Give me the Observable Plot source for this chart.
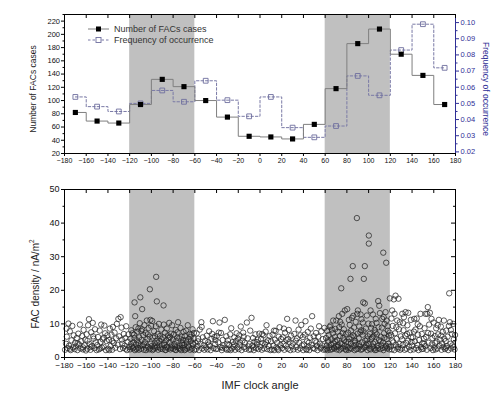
<!DOCTYPE html>
<html><head><meta charset="utf-8">
<script src="https://cdn.jsdelivr.net/npm/d3@7"></script>
<script src="https://cdn.jsdelivr.net/npm/@observablehq/plot@0.6"></script>
<style>
body{margin:0;background:#fff;font-family:"Liberation Sans",Arial,sans-serif}
#wrap{position:relative;width:500px;height:393px;overflow:hidden;background:#fff}
#top,#bot{position:absolute;left:0}
#top{top:0}#bot{top:175px}
.lab{position:absolute;white-space:nowrap;color:#222;line-height:1}
.rot{transform:translate(-50%,-50%) rotate(-90deg)}
.rot90{transform:translate(-50%,-50%) rotate(90deg)}
.ctr{transform:translate(-50%,-50%)}
.leg{position:absolute;left:88px;font-size:9px;color:#333;display:flex;align-items:center;white-space:nowrap}
.leg svg{margin-right:4px}
</style></head><body>
<div id="wrap">
  <div id="top"></div>
  <div id="bot"></div>
  <div class="lab rot" style="left:33px;top:89px;font-size:8.5px">Number of FACs cases</div>
  <div class="lab rot90" style="left:486px;top:89px;font-size:8.5px;color:#2f2f96">Frequency of occurrence</div>
  <div class="lab rot" style="left:35px;top:284px;font-size:10px">FAC density / nA/m<sup style="font-size:6.5px">2</sup></div>
  <div class="lab ctr" style="left:260px;top:385px;font-size:11px">IMF clock angle</div>
  <div class="leg" style="top:24px"><svg width="22" height="10"><line x1="0" y1="5" x2="21" y2="5" stroke="#7f7f7f" stroke-width="1"/><rect x="8" y="2.5" width="5" height="5" fill="#000"/></svg>Number of FACs cases</div>
  <div class="leg" style="top:35px"><svg width="22" height="10"><line x1="0" y1="5" x2="21" y2="5" stroke="#7a7aa6" stroke-width="1" stroke-dasharray="2.5,2"/><rect x="8" y="2.5" width="5" height="5" fill="#fff" stroke="#6e6e9e" stroke-width="0.9"/></svg>Frequency of occurrence</div>
</div>
<script>
// ---- data ----
const binCenters = [-170,-150,-130,-110,-90,-70,-50,-30,-10,10,30,50,70,90,110,130,150,170];
const facCases   = [82,69,66,94,132,121,100,75,46,45,42,64,118,186,208,170,138,94];
const freqOccurrence = [0.054,0.048,0.045,0.050,0.058,0.051,0.064,0.052,0.042,0.054,0.035,0.029,0.036,0.067,0.055,0.083,0.099,0.072];
const shadedBands = [[-120,-60],[60,120]];
const xTicks = [-180,-160,-140,-120,-100,-80,-60,-40,-20,0,20,40,60,80,100,120,140,160,180];
const casesTicks = [20,40,60,80,100,120,140,160,180,200,220];
const casesMinor = [30,50,70,90,110,130,150,170,190,210,230];
const freqTicks = [0.02,0.03,0.04,0.05,0.06,0.07,0.08,0.09,0.10];
const freqMinor = [0.025,0.035,0.045,0.055,0.065,0.075,0.085,0.095];
const densityTicks = [0,10,20,30,40,50];
const densityMinor = [5,15,25,35,45];
const casesDomain = [20,230];
const freqDomain = [0.019,0.105];

const scatterWest = [
[-179.5,2.3],[-178.6,4.1],[-177.9,6.2],[-177.2,2.8],[-176.4,10.1],[-175.8,3.5],[-175.1,7.8],[-174.3,2.2],[-173.6,5.1],[-172.8,9.4],[-172.1,3.0],[-171.5,6.6],[-170.7,2.5],[-170.2,4.4],[-178.2,8.6],[-174.9,2.6],
[-169.4,3.3],[-168.7,5.8],[-168.1,2.2],[-167.3,7.1],[-166.6,3.9],[-165.8,9.8],[-165.2,2.7],[-164.5,4.8],[-163.7,6.4],[-163.0,2.4],[-162.4,8.2],[-161.6,3.6],[-160.9,5.3],[-160.3,2.1],[-167.9,4.2],[-162.9,3.0],
[-159.6,6.9],[-159.0,2.6],[-158.3,9.6],[-157.5,11.4],[-156.8,4.0],[-156.1,2.3],[-155.4,7.5],[-154.7,3.4],[-154.0,10.3],[-153.2,5.6],[-152.5,2.8],[-151.9,8.4],[-151.2,4.5],[-150.5,2.2],[-158.8,5.0],[-155.9,3.1],[-153.6,6.3],
[-149.8,3.7],[-149.1,6.1],[-148.4,2.4],[-147.6,8.0],[-146.9,4.6],[-146.2,9.8],[-145.5,2.9],[-144.8,5.4],[-144.0,3.2],[-143.3,9.5],[-142.6,7.2],[-141.9,2.2],[-141.2,4.9],[-140.5,6.6],[-147.2,2.7],[-143.8,5.9],
[-139.7,2.6],[-139.0,5.2],[-138.3,8.6],[-137.5,3.4],[-136.8,6.8],[-136.1,2.3],[-135.4,9.1],[-134.6,4.3],[-133.9,7.4],[-133.2,2.9],[-132.5,5.7],[-131.8,10.0],[-131.1,3.8],[-130.4,11.5],[-135.9,4.9],[-138.8,2.2],
[-129.6,6.3],[-128.9,2.5],[-128.3,12.0],[-127.5,8.9],[-126.8,4.1],[-126.1,2.8],[-125.4,7.0],[-124.7,3.5],[-124.0,5.8],[-123.2,9.3],[-122.5,2.2],[-121.8,4.7],[-121.1,6.9],[-120.4,3.1],[-127.2,5.3],[-123.7,2.6]
];
const scatterShadedWest = [
[-115.5,16.4],[-114.9,12.3],[-110.2,17.9],
[-119.7,2.4],[-119.2,5.6],[-118.6,8.1],[-118.1,3.3],[-117.5,7.2],[-117.0,2.7],[-116.4,4.5],[-115.9,6.8],[-115.2,2.2],[-114.5,9.0],[-114.0,3.9],[-113.4,5.1],[-112.9,7.7],[-112.3,2.9],[-111.8,4.3],[-111.2,6.0],[-110.7,10.2],[-110.1,3.5],[-118.9,4.0],[-116.7,3.0],[-113.7,2.5],[-112.0,8.6],[-115.6,5.8],[-111.5,2.3],
[-108.5,14.4],[-101.4,20.3],
[-109.6,2.6],[-109.1,5.2],[-108.6,8.4],[-108.0,3.6],[-107.5,6.7],[-107.0,2.3],[-106.4,9.6],[-105.9,4.6],[-105.3,7.3],[-104.8,2.9],[-104.2,11.0],[-103.7,5.5],[-103.1,3.2],[-102.6,8.8],[-102.0,2.4],[-101.5,6.2],[-100.9,11.2],[-100.4,4.1],[-109.3,7.9],[-106.8,3.9],[-105.0,2.2],[-103.4,6.9],[-101.2,2.7],[-100.2,9.4],
[-95.6,24.0],[-95.0,16.7],
[-99.7,3.4],[-99.2,10.9],[-98.6,5.9],[-98.1,2.5],[-97.5,7.8],[-97.0,4.2],[-96.4,2.8],[-95.9,9.3],[-95.3,5.0],[-94.8,3.1],[-94.2,7.0],[-93.7,2.3],[-93.1,10.0],[-92.6,4.8],[-92.0,6.4],[-91.5,2.6],[-90.9,8.3],[-90.4,3.7],[-98.9,2.2],[-96.7,6.3],[-94.5,4.4],[-92.3,3.0],[-90.6,5.5],[-97.3,3.3],
[-88.8,15.5],
[-89.7,2.5],[-89.2,6.0],[-88.6,9.8],[-88.0,3.8],[-87.5,7.4],[-86.9,2.2],[-86.4,5.1],[-85.8,8.6],[-85.3,3.2],[-84.7,6.6],[-84.2,2.7],[-83.6,10.3],[-83.1,4.5],[-82.5,2.4],[-82.0,7.1],[-81.4,3.6],[-80.9,9.6],[-80.3,5.3],[-88.3,4.3],[-86.1,3.0],[-84.0,5.8],[-81.7,2.9],[-87.2,2.3],[-82.8,6.1],
[-79.8,2.6],[-79.2,6.9],[-78.7,4.0],[-78.1,2.3],[-77.6,8.2],[-77.0,5.0],[-76.5,3.1],[-75.9,7.5],[-75.4,10.5],[-74.8,2.8],[-74.3,5.7],[-73.7,3.5],[-73.2,8.8],[-72.6,2.2],[-72.1,6.2],[-71.5,4.3],[-71.0,2.9],[-70.4,7.6],[-78.4,3.3],[-76.2,5.9],[-73.9,2.5],[-71.8,3.8],[-77.3,2.2],[-70.8,5.2],
[-69.8,3.7],[-69.2,6.4],[-68.7,2.4],[-68.1,8.0],[-67.6,4.6],[-67.0,2.7],[-66.5,9.6],[-65.9,5.4],[-65.4,3.0],[-64.8,7.0],[-64.3,2.3],[-63.7,4.9],[-63.2,6.8],[-62.6,2.6],[-62.1,8.4],[-61.5,3.9],[-61.0,5.6],[-60.4,2.2],[-68.4,5.1],[-66.2,3.3],[-64.0,6.1],[-62.0,4.2],[-69.5,2.2],[-60.8,7.3]
];
const scatterMiddle = [
[-59.6,4.4],[-59.0,2.5],[-58.3,7.2],[-57.6,3.3],[-56.9,5.6],[-56.2,2.2],[-55.5,8.3],[-54.8,4.0],[-54.0,10.5],[-53.3,2.7],[-52.6,6.0],[-51.9,3.6],[-51.2,2.3],[-50.5,5.0],[-57.1,4.8],[-53.7,9.1],
[-49.7,3.0],[-49.0,6.5],[-48.3,2.4],[-47.6,4.6],[-46.8,7.8],[-46.1,3.4],[-45.4,2.2],[-44.7,5.5],[-43.4,10.8],[-42.7,2.8],[-42.0,6.1],[-41.3,4.0],[-40.6,2.5],[-47.2,3.8],[-44.0,7.0],[-41.0,5.2],
[-39.8,6.4],[-39.1,2.6],[-38.4,4.5],[-37.3,10.4],[-36.6,3.1],[-35.9,7.3],[-35.2,2.2],[-34.4,5.2],[-33.7,3.6],[-32.4,11.2],[-31.7,2.7],[-31.0,6.3],[-30.3,4.1],[-38.0,7.4],[-34.9,2.9],[-30.6,2.3],
[-29.6,5.1],[-28.9,2.4],[-28.2,3.8],[-27.5,6.9],[-26.5,8.7],[-25.8,2.7],[-25.1,4.6],[-24.4,3.2],[-23.6,6.0],[-22.9,2.3],[-22.2,4.9],[-21.5,7.2],[-20.8,3.0],[-20.2,5.6],[-27.0,2.2],[-23.9,3.9],
[-19.7,2.5],[-19.0,6.6],[-18.3,3.6],[-17.7,9.2],[-16.9,2.2],[-16.2,5.0],[-15.5,7.4],[-14.8,3.1],[-14.1,4.4],[-13.4,2.6],[-12.1,10.4],[-11.4,5.7],[-10.7,3.3],[-10.2,2.3],[-15.0,6.2],[-18.6,4.5],
[-9.7,4.0],[-9.0,8.0],[-8.4,2.4],[-7.8,11.8],[-7.1,3.5],[-6.4,5.8],[-5.7,2.2],[-5.0,4.7],[-4.2,6.9],[-3.5,2.8],[-2.8,3.9],[-2.1,5.3],[-1.4,2.5],[-0.7,7.1],[-6.0,3.0],[-3.0,4.6],
[0.3,3.2],[1.0,5.5],[1.7,2.3],[2.4,4.3],[3.1,6.6],[3.8,2.7],[4.5,3.9],[5.2,7.7],[6.0,9.6],[6.7,2.5],[7.4,5.1],[8.1,3.4],[8.8,6.4],[9.5,2.2],[2.0,7.0],[5.6,4.5],
[10.2,4.8],[10.9,2.4],[11.6,6.8],[12.3,3.5],[13.0,2.2],[13.7,5.3],[14.4,7.9],[15.1,3.0],[15.8,4.4],[16.5,2.6],[17.2,6.2],[18.0,9.0],[18.7,3.7],[19.4,5.5],[12.9,8.0],[16.9,2.2],
[20.3,2.8],[21.0,6.0],[21.7,4.0],[22.4,2.3],[23.1,7.4],[23.8,3.5],[24.5,5.2],[25.0,11.5],[25.8,2.6],[26.5,8.2],[27.2,4.6],[27.9,2.2],[28.6,6.5],[29.3,3.3],[22.0,8.6],[26.0,5.5],
[30.2,4.2],[30.9,2.4],[31.6,7.0],[32.7,11.0],[33.4,3.1],[34.1,5.7],[34.8,2.3],[35.5,8.3],[36.2,4.4],[36.9,2.7],[38.0,9.7],[38.7,3.6],[39.4,6.1],[39.8,2.2],[33.0,5.0],[37.3,6.6],
[40.3,3.9],[41.1,6.8],[41.9,10.8],[42.6,2.5],[43.3,4.8],[44.0,7.6],[44.7,3.2],[45.4,2.2],[46.1,5.9],[46.8,8.6],[47.5,3.7],[48.0,12.3],[48.8,2.8],[49.5,6.3],[43.0,2.3],[45.0,4.4],
[50.2,2.6],[50.9,5.0],[51.6,7.3],[52.3,3.4],[53.0,2.2],[53.7,6.2],[54.4,9.3],[55.1,4.1],[55.8,2.7],[56.5,7.8],[57.2,3.6],[57.9,5.5],[58.6,2.3],[59.3,8.8],[52.0,4.5],[56.0,3.0]
];
const scatterShadedEast = [
[60.3,2.4],[60.8,5.8],[61.3,3.5],[61.8,7.9],[62.3,2.2],[62.8,4.6],[63.3,6.7],[63.8,2.9],[64.3,9.1],[64.9,9.5],[65.4,3.8],[65.9,5.4],[66.4,2.5],[66.9,7.2],[67.4,11.0],[67.9,4.2],[68.4,2.7],[68.9,6.1],[69.4,8.5],[69.8,3.3],[61.5,2.7],[63.0,5.0],[65.0,2.3],[66.2,8.3],[68.0,3.0],[69.2,4.9],
[70.2,11.0],[70.6,2.4],[71.1,5.2],[71.6,7.7],[72.1,3.6],[72.6,12.3],[73.1,2.2],[73.6,6.4],[74.1,4.3],[74.8,20.6],[75.2,9.8],[75.7,13.0],[76.2,2.8],[76.7,5.9],[77.2,8.4],[77.7,3.4],[78.1,14.0],[78.6,2.5],[79.1,6.9],[79.6,4.7],[71.4,3.2],[72.9,9.0],[74.5,2.6],[76.0,7.3],[77.5,5.1],[79.3,2.2],[73.8,10.6],[75.5,4.0],
[80.3,14.4],[80.6,3.0],[81.1,7.4],[81.6,2.3],[82.1,5.5],[82.6,9.7],[83.3,23.4],[83.6,4.1],[84.1,2.6],[84.6,11.8],[85.4,27.2],[85.6,6.6],[86.1,3.4],[86.6,8.9],[87.1,2.2],[87.6,5.0],[88.1,10.6],[89.2,41.5],[88.6,3.8],[89.5,13.0],[89.9,7.1],[81.4,4.6],[82.9,2.8],[84.3,6.0],[85.9,12.4],[87.3,4.4],[88.8,2.5],[81.8,11.2],[86.9,6.3],[83.9,8.0],
[90.1,14.0],[90.4,2.6],[90.9,5.7],[91.4,9.2],[91.9,3.3],[92.4,7.5],[92.9,2.3],[93.4,11.4],[93.9,4.5],[94.4,6.8],[95.0,16.4],[95.6,23.4],[95.8,2.9],[96.5,16.1],[96.5,27.2],[96.9,5.0],[97.4,8.6],[97.9,3.7],[98.4,12.5],[98.9,2.2],[99.4,6.3],[99.8,10.1],[91.1,4.0],[92.6,12.8],[94.1,2.5],[95.3,7.8],[97.1,3.1],[98.6,5.4],[93.1,8.1],[99.1,4.2],[94.7,10.4],
[100.2,36.3],[100.2,33.9],[100.6,3.9],[101.1,7.0],[101.8,14.0],[102.1,2.4],[102.6,5.6],[103.1,9.9],[103.6,3.2],[104.0,12.8],[104.6,6.4],[105.1,2.7],[105.6,8.2],[106.1,4.6],[106.6,11.5],[107.1,2.3],[107.6,6.9],[108.1,3.5],[108.8,16.8],[109.1,9.0],[109.6,5.2],[109.8,15.4],[100.9,2.6],[102.4,8.8],[104.3,4.1],[105.9,2.2],[107.3,10.3],[108.6,2.8],[103.3,6.0],[106.3,7.4],
[110.4,13.2],[110.7,2.5],[111.2,6.2],[111.7,3.6],[112.2,8.9],[112.5,11.5],[113.2,4.4],[113.5,31.2],[113.7,2.2],[114.2,7.2],[114.7,10.0],[115.2,3.0],[115.6,13.5],[116.2,28.2],[116.5,11.0],[116.7,5.5],[117.2,2.7],[117.7,8.0],[118.2,4.1],[118.7,6.5],[119.2,2.4],[119.6,17.6],[111.0,4.8],[112.9,2.8],[114.5,5.9],[116.0,3.5],[117.5,9.3],[118.9,3.2],[113.9,12.0],[119.4,7.4]
];
const scatterEast = [
[121.7,14.0],[123.2,17.3],[123.9,13.0],[124.8,18.4],[127.5,17.5],
[120.3,3.3],[120.8,6.7],[121.3,2.4],[122.2,9.4],[122.7,4.5],[123.6,2.2],[124.3,7.2],[125.2,3.7],[125.8,5.6],[126.3,11.0],[126.9,2.6],[127.9,8.4],[128.4,4.0],[129.0,2.3],[129.6,6.3],[121.0,11.6],[125.5,9.0],[128.7,10.5],[122.0,5.0],[127.1,3.1],
[130.3,2.7],[130.8,5.4],[131.0,13.0],[131.6,3.8],[132.1,8.1],[132.5,12.0],[133.2,2.3],[133.7,6.5],[134.0,13.5],[134.6,4.3],[135.1,2.6],[135.7,9.6],[136.3,5.0],[136.5,13.3],[137.2,3.2],[137.8,7.4],[138.4,2.2],[138.9,11.2],[139.5,4.6],[131.8,10.2],[135.4,7.0],[139.2,6.0],
[140.2,3.5],[140.8,6.0],[141.4,2.4],[142.0,11.5],[142.6,4.8],[143.1,8.3],[143.7,2.8],[144.3,11.6],[144.9,3.7],[145.5,6.8],[146.0,2.2],[146.6,5.2],[147.2,9.3],[147.8,13.0],[148.4,3.1],[149.0,7.0],[149.6,4.3],[141.7,7.7],[145.2,9.9],[148.9,2.5],
[150.3,2.6],[150.9,5.6],[151.5,8.7],[152.1,3.4],[152.4,13.0],[153.0,6.1],[153.6,2.3],[154.0,13.0],[154.5,15.0],[155.1,4.4],[155.7,9.8],[156.4,13.3],[156.9,2.8],[157.5,7.1],[158.1,3.9],[158.7,5.8],[159.3,2.2],[159.8,10.4],[151.2,4.1],[154.8,7.3],[157.9,11.5],
[160.4,3.0],[161.0,6.4],[161.6,2.4],[162.2,8.7],[162.8,4.7],[163.4,2.7],[164.0,6.9],[164.7,11.2],[165.3,3.5],[165.9,5.3],[166.5,9.2],[167.1,2.3],[167.7,4.2],[168.3,7.6],[168.9,3.1],[169.3,11.0],[169.7,5.6],[161.3,4.3],[163.6,9.6],[166.8,6.5],
[170.3,2.5],[170.9,4.9],[171.5,8.0],[172.1,3.4],[172.7,6.2],[173.3,2.2],[173.9,9.4],[174.2,19.1],[174.8,10.5],[175.4,4.1],[176.0,2.7],[176.6,7.0],[177.2,3.6],[177.9,10.0],[178.5,5.4],[179.1,2.4],[179.6,6.7],[171.2,2.9],[175.7,8.2],[178.1,3.1]
];

// ---- build ----
const BLUE = "#2f2f96";
const toL = f => casesDomain[0] + (f - freqDomain[0]) / (freqDomain[1] - freqDomain[0]) * (casesDomain[1] - casesDomain[0]);
const fromL = L => freqDomain[0] + (L - casesDomain[0]) / (casesDomain[1] - casesDomain[0]) * (freqDomain[1] - freqDomain[0]);
const rows = binCenters.map((a, i) => ({angle: a, cases: facCases[i], freqL: toL(freqOccurrence[i])}));
const facPoints = [...scatterWest, ...scatterShadedWest, ...scatterMiddle, ...scatterShadedEast, ...scatterEast];
const font = {fontFamily: "'Liberation Sans', Arial, sans-serif", background: "transparent", color: "#111", overflow: "visible"};

const W = 500, ML = 64, MR = 45;
const topH = 175, topMT = 14, topMB = 22;
const topFrameH = topH - topMT - topMB;
const frameW = W - ML - MR;

const topPlot = Plot.plot({
  width: W, height: topH, marginLeft: ML, marginRight: MR, marginTop: topMT, marginBottom: topMB,
  x: {domain: [-180, 180], axis: null},
  y: {domain: casesDomain, axis: null},
  style: {...font, fontSize: "7px"},
  marks: [
    Plot.rect(shadedBands, {x1: d => d[0], x2: d => d[1], fill: "#c0c0c0"}),
    Plot.line(rows, {x: "angle", y: "freqL", curve: "step", stroke: "#7a7aa6", strokeWidth: 1, strokeDasharray: "2.5,2"}),
    Plot.line(rows, {x: "angle", y: "cases", curve: "step", stroke: "#7f7f7f", strokeWidth: 1}),
    Plot.dot(rows, {x: "angle", y: "freqL", symbol: "square", r: 2.7, stroke: "#6e6e9e", fill: "none", strokeWidth: 0.9}),
    Plot.dot(rows, {x: "angle", y: "cases", symbol: "square", r: 2.9, fill: "black", stroke: "none"}),
    Plot.ruleX([-180], {stroke: "black"}),
    Plot.ruleY([casesDomain[0]], {stroke: "black"}),
    Plot.ruleY([casesDomain[1]], {stroke: "black"}),
    Plot.ruleX([180], {stroke: BLUE}),
    Plot.axisX(xTicks, {anchor: "bottom", tickSize: 3, tickPadding: 1.5, fontSize: 7, label: null, stroke: "black"}),
    Plot.tickX(xTicks, {x: d => d, insetBottom: topFrameH - 4, stroke: "black"}),
    Plot.axisY(casesTicks, {anchor: "left", tickSize: 3, tickPadding: 1.5, fontSize: 7.5, label: null, stroke: "black"}),
    Plot.axisY(casesMinor, {anchor: "left", tickSize: 1.5, tickFormat: () => "", label: null, stroke: "black"}),
    Plot.axisY(freqTicks.map(toL), {anchor: "right", tickSize: 3, tickPadding: 2, fontSize: 7.5, label: null, color: BLUE, tickFormat: L => fromL(L).toFixed(2)}),
    Plot.axisY(freqMinor.map(toL), {anchor: "right", tickSize: 1.5, label: null, color: BLUE, tickFormat: () => ""})
  ]
});
document.getElementById("top").appendChild(topPlot);

const botH = 218, botMT = 14, botMB = 36;
const botFrameH = botH - botMT - botMB;
const botPlot = Plot.plot({
  width: W, height: botH, marginLeft: ML, marginRight: MR, marginTop: botMT, marginBottom: botMB,
  x: {domain: [-180, 180], axis: null},
  y: {domain: [0, 50], axis: null},
  style: {...font, fontSize: "8px"},
  marks: [
    Plot.rect(shadedBands, {x1: d => d[0], x2: d => d[1], fill: "#c0c0c0"}),
    Plot.dot(facPoints, {x: d => d[0], y: d => d[1], r: 2.7, stroke: "#262626", strokeWidth: 0.75, fill: "none"}),
    Plot.frame({stroke: "black"}),
    Plot.axisX(xTicks, {anchor: "bottom", tickSize: 3, tickPadding: 2, fontSize: 8, label: null, stroke: "black"}),
    Plot.tickX(xTicks, {x: d => d, insetBottom: botFrameH - 4, stroke: "black"}),
    Plot.axisY(densityTicks, {anchor: "left", tickSize: 3, tickPadding: 2, fontSize: 9, label: null, stroke: "black"}),
    Plot.axisY(densityMinor, {anchor: "left", tickSize: 1.5, tickFormat: () => "", label: null, stroke: "black"}),
    Plot.tickY(densityTicks, {y: d => d, insetLeft: frameW - 4, stroke: "black"}),
    Plot.tickY(densityMinor, {y: d => d, insetLeft: frameW - 2, stroke: "black"})
  ]
});
document.getElementById("bot").appendChild(botPlot);
</script>
</body></html>
